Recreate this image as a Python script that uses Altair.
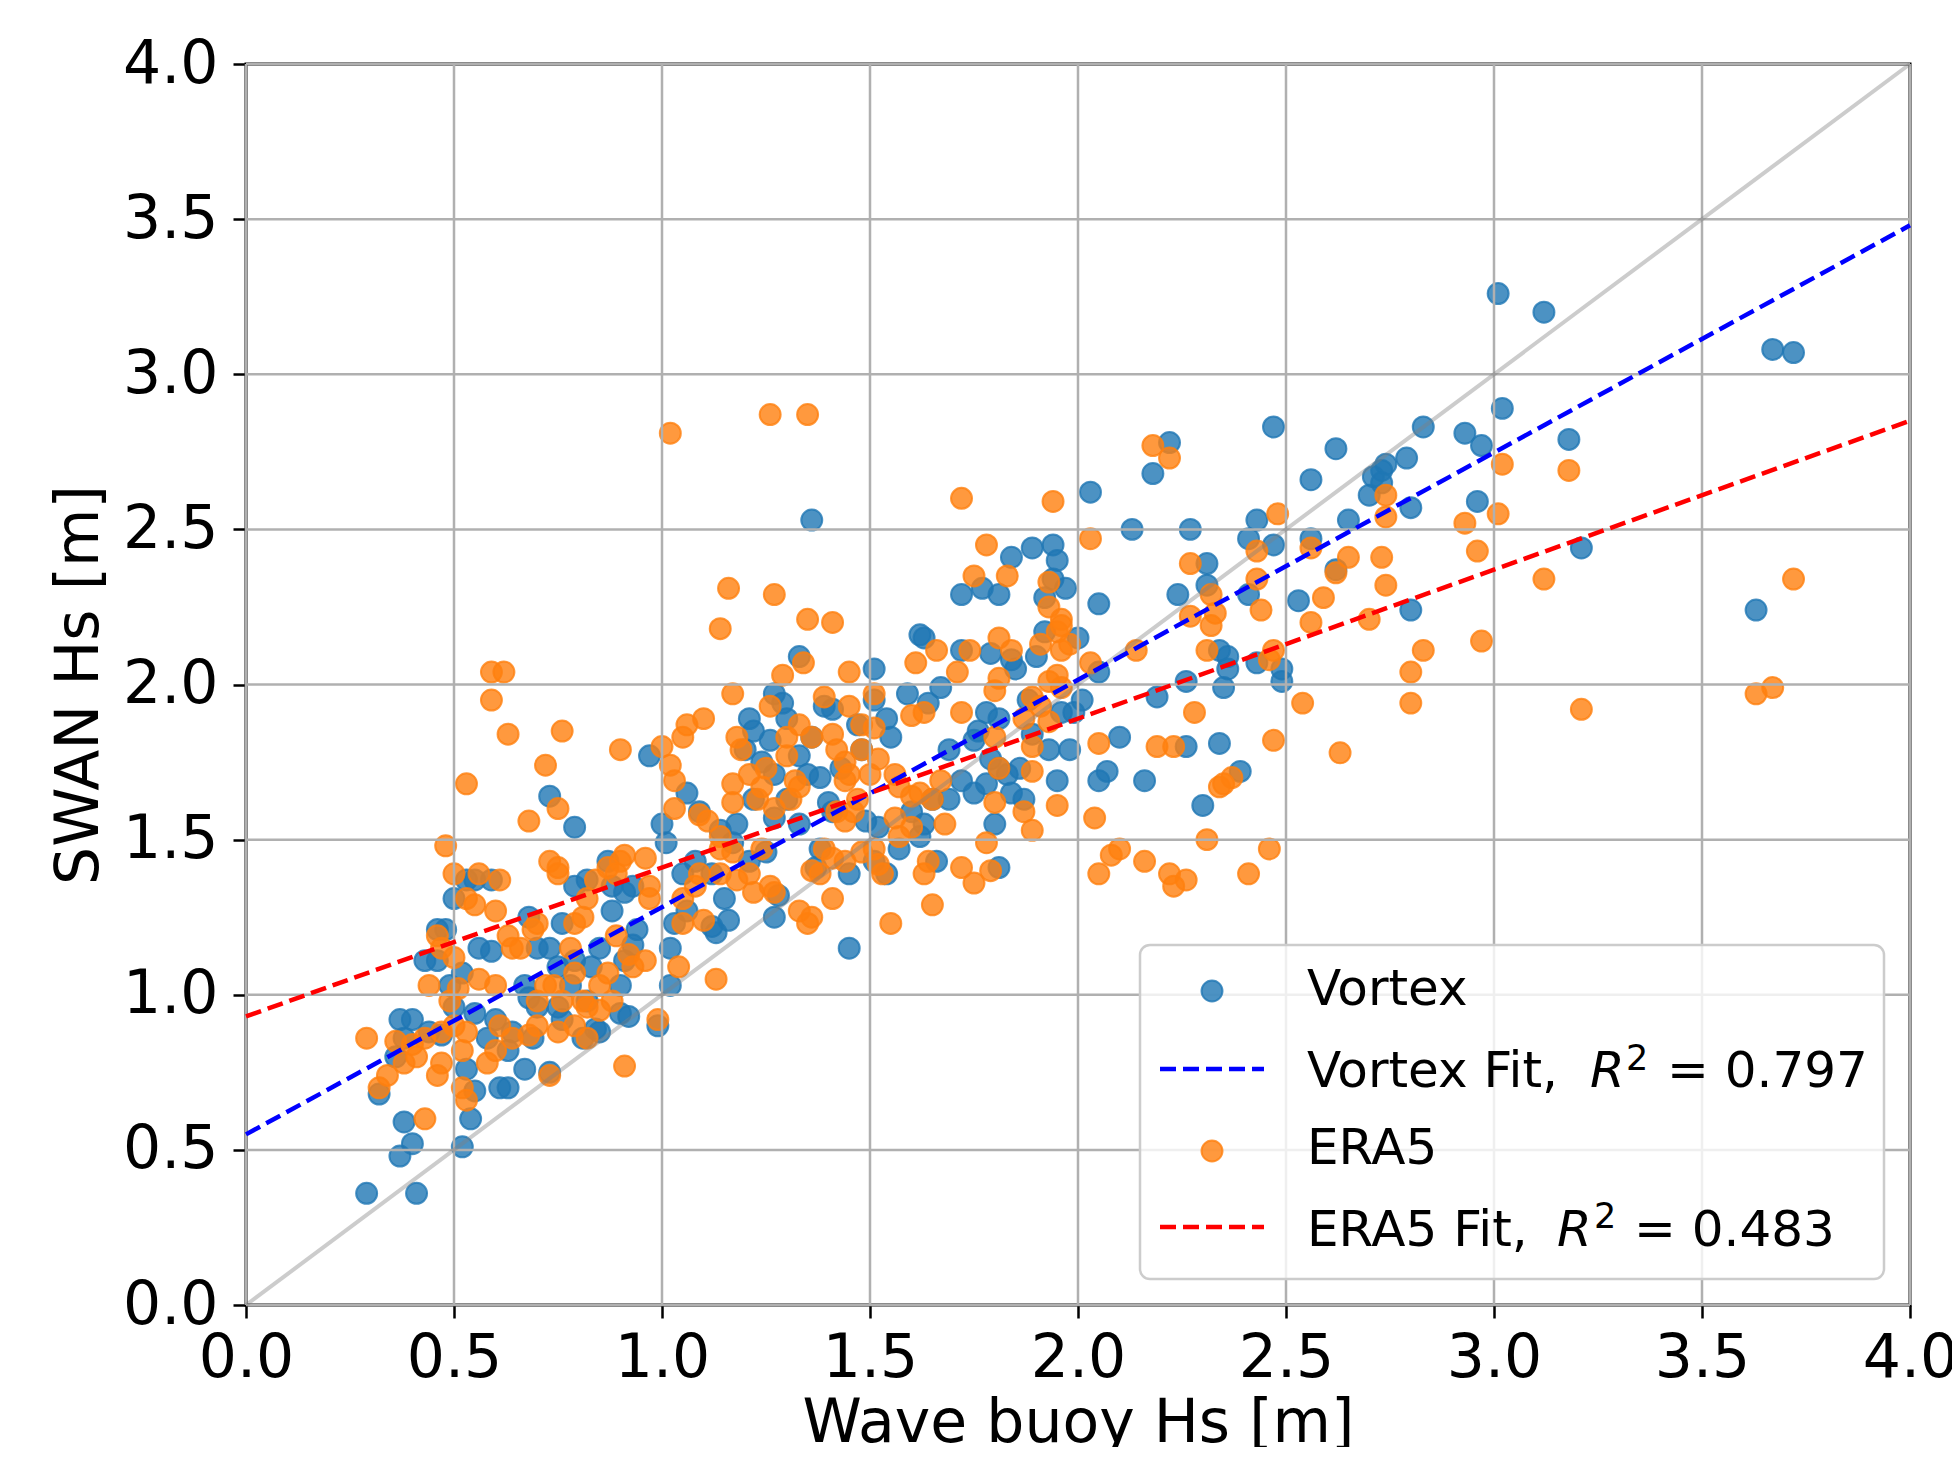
import altair as alt
import pandas as pd

# ---------------- data ----------------
vortex_x = [3.01,3.12,3.67,3.72,3.63,3.21,3.18,3.02,2.93,2.97,2.96,2.83,2.79,2.74,2.73,2.71,2.73,2.80,2.80,2.70,
            2.62,2.56,2.65,2.47,2.43,2.41,2.47,2.56,2.62,2.53,2.49,2.43,2.41,2.36,2.34,2.31,2.34,2.39,2.30,2.26,
            2.22,2.18,2.13,2.27,2.24,2.16,2.10,2.05,2.03,2.05,2.05,1.98,1.94,1.95,1.94,1.97,1.84,1.81,1.72,1.92,
            1.90,1.88,1.62,1.63,1.72,1.78,1.81,1.69,1.59,1.67,1.51,1.51,1.54,1.55,1.47,1.48,1.43,1.39,1.36,1.35,
            1.33,1.27,1.30,1.22,1.21,1.20,1.24,1.30,1.27,1.33,1.22,1.18,1.17,1.21,1.14,1.12,1.15,1.09,1.08,1.05,
            1.06,0.97,1.00,1.01,1.03,1.02,0.99,0.93,0.94,0.91,0.88,0.85,0.90,0.87,0.82,0.79,0.76,0.73,0.75,0.70,
            0.67,0.70,0.78,0.82,0.85,0.81,0.76,0.69,0.64,0.63,0.67,0.58,0.60,0.55,0.61,0.50,0.52,0.49,0.46,0.48,
            0.50,0.56,0.59,0.55,0.53,0.40,0.38,0.36,0.73,0.79,1.36,1.45,1.45,1.38,1.41,1.51,1.54,1.57,1.63,1.65,
            1.69,1.72,1.75,1.81,1.80,1.66,1.62,1.60,1.86,1.84,1.87,1.95,1.93,1.99,2.01,1.96,0.29,0.41,0.37,0.38,
            0.40,0.52,0.54,0.32,0.37,0.44,0.63,0.43,0.46]
vortex_y = [3.26,3.20,3.08,3.07,2.24,2.44,2.79,2.89,2.81,2.77,2.59,2.83,2.73,2.71,2.69,2.67,2.65,2.57,2.24,2.61,
            2.76,2.66,2.53,2.83,2.53,2.47,2.45,2.47,2.37,2.27,2.01,2.07,2.29,2.09,2.11,2.39,1.81,1.72,1.61,1.80,
            2.78,2.68,2.50,2.50,2.29,1.69,1.83,2.26,2.62,2.04,1.69,1.79,2.45,2.40,2.34,2.31,2.41,2.29,2.29,2.17,
            2.09,1.95,2.16,2.15,2.11,1.91,1.89,1.79,1.97,1.99,2.05,1.95,1.89,1.83,1.87,1.79,1.73,1.93,1.83,1.71,
            2.09,1.97,1.89,1.85,1.89,1.79,1.75,1.63,1.57,1.55,1.63,1.55,1.49,1.43,1.53,1.39,1.31,1.59,1.43,1.39,
            1.27,1.77,1.55,1.49,1.23,1.03,0.90,1.35,1.21,1.11,1.27,1.15,1.03,1.43,1.37,1.35,1.23,1.15,1.09,1.15,
            1.03,0.96,1.03,0.98,0.88,0.86,0.92,0.86,0.88,0.82,0.76,0.86,0.92,0.94,0.70,0.96,1.07,1.03,1.11,1.21,
            1.31,1.15,1.37,1.37,1.37,0.92,0.86,0.80,1.64,1.54,2.53,1.15,1.39,1.47,1.59,1.43,1.39,1.47,1.55,1.63,
            1.63,1.69,1.65,1.41,1.55,1.43,1.51,1.59,1.73,1.65,1.63,1.69,1.79,1.91,1.95,1.91,0.36,0.36,0.48,0.59,
            0.52,0.51,0.60,0.68,0.92,0.88,0.70,1.11,1.21]
# further Vortex points read from the dense central cloud
vortex_x_more = [1.06,1.02,1.13,0.59,0.68,0.88,0.91,0.79,0.83,0.93,0.68,0.75,0.90,0.92,0.84,0.47,0.53,0.55,0.73,
                 1.92,1.77,1.79,1.84,1.85,2.00,1.64,1.26,1.29,1.41,1.33,1.38,1.40,1.27,1.78,1.81,1.83,1.75,1.76,1.79,
                 1.89,1.25,1.28,1.27,1.16,1.12,1.37,1.49,1.52,
                 2.31,2.36,2.35,2.26,2.19,2.49,2.07,1.89]
vortex_y_more = [1.65,1.15,1.20,1.14,1.25,1.35,1.33,1.11,1.09,1.16,0.99,0.96,0.94,0.93,0.89,0.87,0.76,0.69,0.75,
                 2.28,2.31,2.10,2.08,2.05,2.15,1.94,1.82,1.94,1.92,1.77,1.70,1.62,1.71,1.68,1.73,1.71,1.82,1.85,1.76,
                 1.84,1.46,1.32,1.25,1.24,1.22,1.41,1.56,1.54,
                 2.32,2.05,1.99,2.01,1.96,2.05,1.72,2.44]

era5_x = [1.02,1.26,1.35,1.72,1.94,2.18,2.22,3.02,3.18,3.01,2.93,2.96,3.12,3.72,2.97,3.21,3.67,3.63,2.83,2.80,
          2.80,2.74,2.73,2.74,2.70,2.65,2.62,2.59,2.56,2.54,2.63,2.48,2.47,2.46,2.47,2.46,2.41,2.43,2.43,2.44,
          2.33,2.32,2.31,2.27,2.37,2.34,2.35,2.31,2.26,2.22,2.23,2.16,2.28,2.23,2.19,2.14,2.10,2.08,2.05,2.04,
          2.05,2.03,1.98,1.96,1.95,1.93,1.93,1.96,1.96,1.95,1.96,1.91,1.89,1.95,1.89,1.87,1.81,1.80,1.79,1.72,
          1.72,1.74,1.75,1.78,1.84,1.83,1.66,1.65,1.63,1.65,1.55,1.51,1.57,1.53,1.48,1.48,1.50,1.45,1.51,1.42,
          1.44,1.45,1.47,1.42,1.39,1.38,1.41,1.36,1.35,1.35,1.41,1.27,1.16,1.14,1.10,1.05,1.06,1.02,1.03,1.17,
          1.18,1.29,1.30,1.30,1.32,1.21,1.23,1.24,1.26,1.27,1.21,1.18,1.14,1.14,1.09,1.08,1.05,1.05,1.13,0.97,
          0.97,0.96,0.99,0.91,0.90,0.91,0.89,0.87,0.84,0.82,0.81,0.79,0.90,0.76,0.72,0.75,0.68,0.63,0.59,0.59,
          0.62,0.53,0.48,0.46,0.47,0.50,0.53,0.55,0.56,0.61,0.60,0.63,0.64,0.66,0.69,0.70,0.73,0.75,0.75,0.78,
          0.79,0.72,0.70,0.70,0.74,0.76,0.81,0.82,0.85,0.87,0.88,0.82,0.79,0.61,0.64,0.58,0.60,0.53,0.52,0.56,
          0.60,0.49,0.50,0.44,0.43,0.47,0.46,0.40,0.38,0.34,0.32,0.29,0.43,0.52,0.53,0.73]
era5_y = [2.81,2.87,2.87,2.60,2.59,2.77,2.73,2.71,2.69,2.55,2.52,2.43,2.34,2.34,2.14,1.92,1.99,1.97,2.11,2.04,
          1.94,2.61,2.41,2.32,2.21,2.41,2.36,2.28,2.20,1.94,1.78,2.55,2.11,2.08,1.82,1.47,1.39,2.43,2.34,2.24,
          2.23,2.19,2.11,2.22,1.70,1.67,1.68,1.50,1.37,1.39,1.35,1.43,1.91,1.80,1.80,2.11,1.47,1.45,1.39,1.57,
          1.81,2.47,2.13,2.21,2.17,2.25,2.33,2.19,2.11,2.03,1.99,2.13,1.80,1.61,1.53,1.59,1.73,1.83,1.40,1.41,
          1.91,2.11,2.35,2.45,2.11,2.35,2.11,1.63,1.39,1.29,1.23,1.47,1.51,1.39,1.79,1.87,1.71,1.93,1.97,1.79,
          1.75,1.71,1.63,1.59,1.47,1.39,1.31,1.25,1.23,2.21,2.20,2.29,2.31,2.18,1.89,1.83,1.87,1.74,1.69,1.97,
          1.83,2.03,1.83,1.77,1.69,1.71,1.63,1.47,1.35,1.33,1.39,1.37,1.47,1.39,1.39,1.35,1.31,1.23,1.05,1.35,
          1.31,1.11,0.92,0.77,1.43,1.45,1.39,1.41,1.37,1.31,1.25,1.23,1.79,1.85,1.74,1.60,1.56,1.84,1.95,2.04,
          2.04,1.68,1.48,1.19,1.15,1.39,1.31,1.29,1.39,1.37,1.27,1.19,1.15,1.15,1.21,1.23,1.43,1.41,1.39,1.15,
          1.07,1.03,0.98,0.90,1.03,0.98,0.98,0.96,1.03,1.07,0.98,0.86,0.90,0.90,0.86,0.78,0.82,0.88,0.82,1.05,
          1.03,0.98,0.90,1.03,0.86,0.78,0.74,0.84,0.78,0.74,0.70,0.86,0.60,0.70,0.66,0.74]
# further ERA5 points read from the dense central cloud
era5_x_more = [1.00,1.17,1.03,1.09,0.96,1.14,0.50,0.51,0.89,0.92,0.93,0.75,0.68,0.85,0.36,0.41,0.47,1.04,1.10,
               1.34,1.45,1.26,1.33,1.36,1.41,1.39,1.19,1.25,1.24,1.27,1.17,1.33,1.31,1.52,1.56,1.57,1.60,1.51,1.62,
               1.67,1.56,1.60,1.68,1.60,1.63,1.61,1.71,1.81,1.81,1.80,1.93,1.91,1.87,1.89,1.80,1.78,1.75,1.64,1.52,
               1.48,1.44,1.41,1.36,1.33,1.46,1.44,1.44,1.17,1.22,1.11,
               2.27,2.32,2.56,2.74,2.03,1.93,1.89]
era5_y_more = [1.80,1.68,1.60,1.58,1.44,1.51,1.12,1.02,1.19,1.13,1.09,0.88,0.87,0.95,0.85,0.80,0.88,1.09,1.24,
               2.07,2.04,1.93,1.87,1.83,1.84,1.96,1.79,1.73,1.67,1.60,1.62,1.67,1.63,1.76,1.71,1.67,1.64,1.86,1.65,
               1.69,1.57,1.54,1.55,1.90,1.91,2.07,2.04,2.15,2.02,1.98,1.88,1.93,1.89,1.72,1.62,1.49,1.36,1.43,1.42,
               1.46,1.43,1.44,1.40,1.27,1.59,1.56,1.69,1.46,1.33,1.56,
               2.39,2.29,2.44,2.54,2.07,2.01,1.96]

fit_x = [0.0, 4.0]
vortex_fit_y = [0.55, 3.48]
era5_fit_y = [0.93, 2.85]
one_to_one = [0.0, 4.0]
ticks = [0.0, 0.5, 1.0, 1.5, 2.0, 2.5, 3.0, 3.5, 4.0]
labels = ["Vortex", "Vortex Fit, ", "ERA5", "ERA5 Fit, "]
r2_values = ["= 0.797", "= 0.483"]

# ---------------- chart ----------------
FONT = "DejaVu Sans"
W, H = 1664, 1241
BLUE, ORANGE = "#1f77b4", "#ff7f0e"

df_v = pd.DataFrame({"x": vortex_x + vortex_x_more, "y": vortex_y + vortex_y_more})
df_e = pd.DataFrame({"x": era5_x + era5_x_more, "y": era5_y + era5_y_more})
df_vf = pd.DataFrame({"x": fit_x, "y": vortex_fit_y})
df_ef = pd.DataFrame({"x": fit_x, "y": era5_fit_y})
df_11 = pd.DataFrame({"x": one_to_one, "y": one_to_one})
df_gx = pd.DataFrame({"x": ticks})
df_gy = pd.DataFrame({"y": ticks})
one = pd.DataFrame({"k": [0]})

xs = alt.Scale(domain=[0, 4], nice=False, zero=False)
ys = alt.Scale(domain=[0, 4], nice=False, zero=False)

common_axis = dict(values=ticks, format=".1f", grid=False, domain=False,
                   labelFont=FONT, titleFont=FONT, labelFontSize=60, titleFontSize=60,
                   titleFontWeight="normal", labelColor="black", titleColor="black",
                   tickColor="black", tickSize=13, tickWidth=2.5, labelFlush=False,
                   labelOverlap=False)
X = alt.X("x:Q", scale=xs, axis=alt.Axis(title="Wave buoy Hs [m]", titlePadding=6, labelPadding=11,
                                         **common_axis))
Y = alt.Y("y:Q", scale=ys, axis=alt.Axis(title="SWAN Hs [m]", titlePadding=12, labelPadding=15,
                                         **common_axis))

pts_v = alt.Chart(df_v).mark_point(shape="circle", filled=True, size=440, fill=BLUE, fillOpacity=0.8,
                                   stroke=BLUE, strokeOpacity=0.8, strokeWidth=2).encode(x=X, y=Y)
pts_e = alt.Chart(df_e).mark_point(shape="circle", filled=True, size=440, fill=ORANGE, fillOpacity=0.8,
                                   stroke=ORANGE, strokeOpacity=0.8, strokeWidth=2).encode(x=X, y=Y)

grid_x = alt.Chart(df_gx).mark_rule(color="#b0b0b0", strokeWidth=2.5).encode(x=X)
grid_y = alt.Chart(df_gy).mark_rule(color="#b0b0b0", strokeWidth=2.5).encode(y=Y)

line_11 = alt.Chart(df_11).mark_line(color="gray", opacity=0.4, strokeWidth=4).encode(x=X, y=Y)
line_vf = alt.Chart(df_vf).mark_line(color="blue", strokeWidth=4.5, strokeDash=[16, 7]).encode(x=X, y=Y)
line_ef = alt.Chart(df_ef).mark_line(color="red", strokeWidth=4.5, strokeDash=[16, 7]).encode(x=X, y=Y)

# ---------------- legend (drawn by hand) ----------------
leg_box = alt.Chart(one).mark_rect(fill="white", fillOpacity=0.8, stroke="#cccccc", strokeWidth=2.5,
                                   cornerRadius=10).encode(
    x=alt.value(894), x2=alt.value(1638), y=alt.value(881), y2=alt.value(1215))

def sym(color, yy):
    return alt.Chart(one).mark_point(shape="circle", filled=True, size=440, fill=color, fillOpacity=0.8,
                                     stroke=color, strokeOpacity=0.8, strokeWidth=2).encode(
        x=alt.value(966), y=alt.value(yy))

def dash(color, yy):
    return alt.Chart(one).mark_rule(color=color, strokeWidth=4.5, strokeDash=[16, 7]).encode(
        x=alt.value(914), x2=alt.value(1018), y=alt.value(yy))

def txt(s, xx, yy, size=50, style="normal"):
    return alt.Chart(one).mark_text(text=s, font=FONT, fontSize=size, fontStyle=style, align="left",
                                    baseline="alphabetic", color="black").encode(
        x=alt.value(xx), y=alt.value(yy))

legend = [
    leg_box,
    sym(BLUE, 927), txt(labels[0], 1061, 941),
    dash("blue", 1005), txt(labels[1], 1061, 1023), txt("R", 1344, 1023, style="italic"),
    txt("2", 1380, 1006, size=35), txt(r2_values[0], 1421, 1023),
    sym(ORANGE, 1087), txt(labels[2], 1061, 1100),
    dash("red", 1163), txt(labels[3], 1061, 1182), txt("R", 1311, 1182, style="italic"),
    txt("2", 1348, 1164, size=35), txt(r2_values[1], 1388, 1182),
]

chart = alt.layer(pts_v, pts_e, grid_x, grid_y, line_11, line_vf, line_ef, *legend).properties(
    width=W, height=H,
    autosize=alt.AutoSizeParams(type="none"),
    padding={"left": 238, "top": 56, "right": 42, "bottom": 142},
    background="white",
).configure_view(stroke="black", strokeWidth=3)

chart.save("out.html", embed_options={"renderer": "svg", "actions": False})
